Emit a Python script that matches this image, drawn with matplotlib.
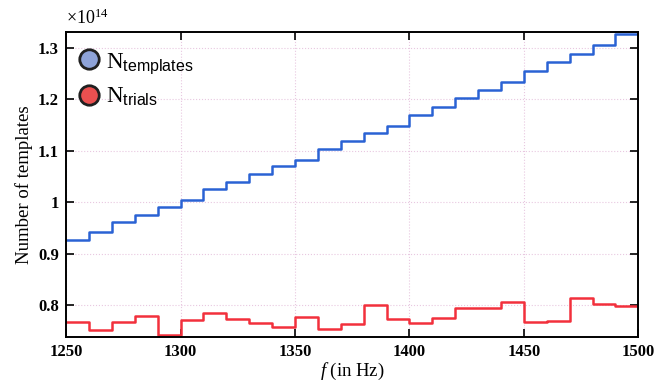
import numpy as np
import matplotlib
matplotlib.use("Agg")
from matplotlib import pyplot as plt
from matplotlib.lines import Line2D
from matplotlib.ticker import FuncFormatter, MultipleLocator

# frequency bin edges (Hz), 10 Hz bins
freq_edges = list(range(1250, 1501, 10))

# number of templates per bin, in units of 1e14
n_templates = [0.926, 0.942, 0.962, 0.976, 0.990, 1.005, 1.025, 1.039, 1.054, 1.070,
               1.083, 1.104, 1.119, 1.135, 1.149, 1.170, 1.186, 1.202, 1.218, 1.233,
               1.256, 1.272, 1.289, 1.305, 1.328]

# number of trials per bin, in units of 1e14
n_trials = [0.767, 0.752, 0.766, 0.779, 0.741, 0.771, 0.784, 0.773, 0.764, 0.757,
            0.777, 0.753, 0.763, 0.799, 0.773, 0.765, 0.775, 0.795, 0.794, 0.806,
            0.766, 0.769, 0.813, 0.801, 0.797]

plt.rcParams['font.family'] = 'Liberation Serif'
plt.rcParams['mathtext.fontset'] = 'custom'
plt.rcParams['mathtext.rm'] = 'Liberation Serif'
plt.rcParams['mathtext.it'] = 'Liberation Serif:italic'
plt.rcParams['mathtext.sf'] = 'Liberation Sans'

fig = plt.figure(figsize=(6.54, 3.81), dpi=100)
ax = fig.add_axes([0.101, 0.116, 0.875, 0.801])

x = np.array(freq_edges)
ax.plot(x, n_templates + [n_templates[-1]], drawstyle='steps-post', color='#2a62d4', lw=1.8)
ax.plot(x, n_trials + [n_trials[-1]], drawstyle='steps-post', color='#f2303c', lw=1.8)

ax.set_xlim(1250, 1500)
ax.set_ylim(0.738, 1.332)
ax.xaxis.set_major_locator(MultipleLocator(50))
ax.yaxis.set_major_locator(MultipleLocator(0.1))
ax.yaxis.set_major_formatter(FuncFormatter(lambda v, p: '%g' % round(v, 2)))

ax.grid(True, color='#e8c8e0', linestyle=':', linewidth=0.8)
ax.tick_params(direction='in', top=True, right=True, length=6, width=1.2,
               labelsize=12, pad=5)
for lab in ax.get_xticklabels() + ax.get_yticklabels():
    lab.set_fontweight('bold')
for s in ax.spines.values():
    s.set_linewidth(1.4)

ax.set_ylabel('Number of templates', fontsize=13.5)
ax.set_xlabel(r'$f$ (in Hz)', fontsize=13.5, labelpad=1)
ax.text(0.0, 1.012, r'$\times10^{14}$', transform=ax.transAxes, fontsize=13,
        va='bottom', ha='left')

handles = [
    Line2D([], [], ls='none', marker='o', markersize=14, markerfacecolor='#8ea3d8',
           markeredgecolor='#202020', markeredgewidth=2),
    Line2D([], [], ls='none', marker='o', markersize=14, markerfacecolor='#ea5050',
           markeredgecolor='#202020', markeredgewidth=2),
]
ax.legend(handles, [r'N$_{\mathsf{templates}}$', r'N$_{\mathsf{trials}}$'],
          loc='upper left', bbox_to_anchor=(-0.018, 0.99), frameon=False,
          fontsize=16.5, handletextpad=0.0, labelspacing=0.45,
          borderaxespad=0.3, handlelength=1.5)

fig.savefig('out.png', dpi=100)
